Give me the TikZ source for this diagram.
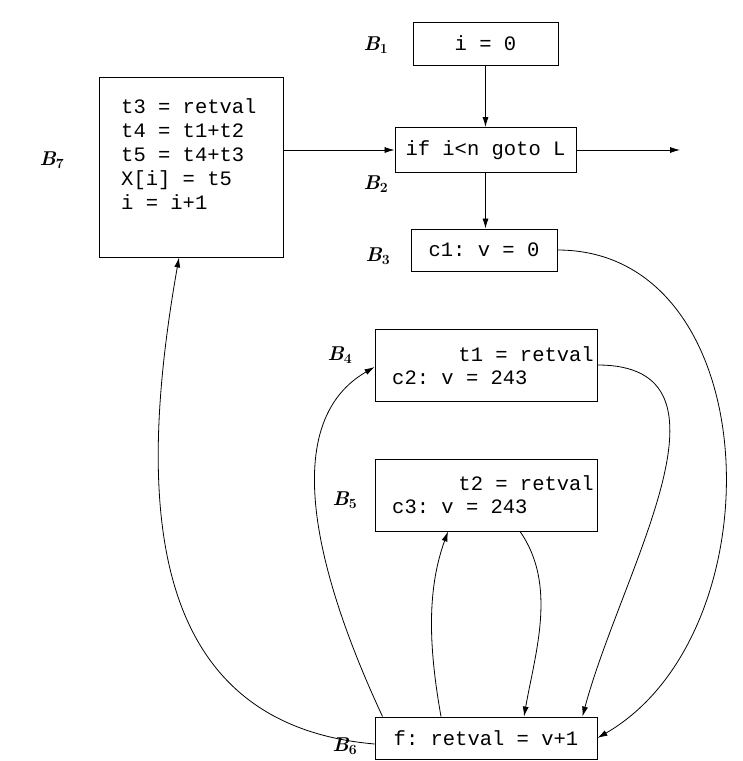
\documentclass[tikz,border=0pt]{standalone}
\usepackage{fontspec}
\setmonofont{Liberation Mono}
\usetikzlibrary{arrows.meta}
\begin{document}
\begin{tikzpicture}[x=1pt,y=-1pt,
  blk/.style={draw,line width=0.9pt,inner sep=0pt},
  code/.style={font=\fontsize{20.5}{24}\selectfont\ttfamily,inner sep=0pt},
  lab/.style={font=\fontsize{20}{24}\selectfont\bfseries\itshape},
  arr/.style={-{Latex[length=10pt,width=6pt]},line width=0.8pt}]
\useasboundingbox (0,0) rectangle (743,761);
\node[blk,code,minimum width=145,minimum height=43] (b1) at (485.5,43.5) {i = 0};
\node[blk,code,minimum width=181,minimum height=45] (b2) at (485.5,150) {if i<n goto L};
\node[blk,code,minimum width=146,minimum height=42] (b3) at (484,250) {c1: v = 0};
\node[blk,minimum width=184,minimum height=180] (b7) at (191,167) {};
\node[code,anchor=north west,align=left] (t7) at (121,98) {t3 = retval\\t4 = t1+t2\\t5 = t4+t3\\X[i] = t5\\i = i+1};
\node[blk,minimum width=222,minimum height=72] (b4) at (486,365) {};
\node[code,anchor=east] (t4a) at (594,354) {t1 = retval};
\node[code,anchor=west] (t4b) at (392,378) {c2: v = 243};
\node[blk,minimum width=222,minimum height=72] (b5) at (486,495) {};
\node[code,anchor=east] (t5a) at (594,483) {t2 = retval};
\node[code,anchor=west] (t5b) at (392,507) {c3: v = 243};
\node[blk,code,minimum width=222,minimum height=42] (b6) at (486,738) {f: retval = v+1};
\node[lab] (l1) at (376,45) {B\textsubscript{\normalfont\bfseries 1}};
\node[lab] (l2) at (376,184) {B\textsubscript{\normalfont\bfseries 2}};
\node[lab] (l3) at (378,256) {B\textsubscript{\normalfont\bfseries 3}};
\node[lab] (l7) at (52,160) {B\textsubscript{\normalfont\bfseries 7}};
\node[lab] (l4) at (340,355) {B\textsubscript{\normalfont\bfseries 4}};
\node[lab] (l5) at (345,500) {B\textsubscript{\normalfont\bfseries 5}};
\node[lab] (l6) at (345,746) {B\textsubscript{\normalfont\bfseries 6}};
\coordinate (out) at (680,150);
\draw[arr] (b1.south) -- (b2.north);
\draw[arr] (b2.south) -- (b3.north -| b2.south);
\draw[arr] (b7.east |- b2.west) -- (b2.west);
\draw[arr] (b2.east) -- (out);
\draw[arr] (b3.east) to[out=0,in=30,looseness=1.1] (b6.east);
\draw[arr] (b4.east) to[out=0,in=75,looseness=1.1] ([xshift=-15]b6.north east);
\draw[arr] ([xshift=34]b5.south) to[out=-55,in=80,looseness=0.9] ([xshift=38]b6.north);
\draw[arr] ([xshift=-45]b6.north) to[out=100,in=-110,looseness=0.9] ([xshift=-38]b5.south);
\draw[arr] ([xshift=8]b6.north west) to[out=115,in=210,looseness=0.9] ([yshift=-2]b4.west);
\draw[arr] ([yshift=-6]b6.west) to[out=175,in=-100,looseness=1.15] ([xshift=-12]b7.south);
\end{tikzpicture}
\end{document}
